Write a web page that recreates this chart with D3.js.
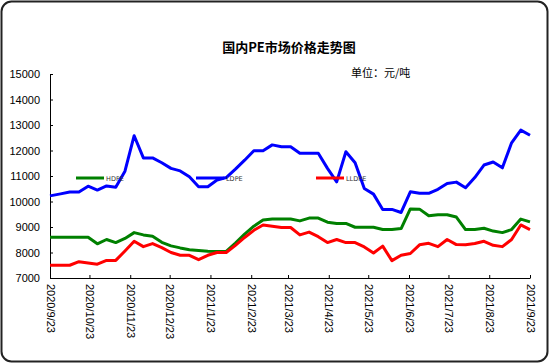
<!DOCTYPE html>
<html lang="zh">
<head>
<meta charset="UTF-8">
<title>国内PE市场价格走势图</title>
<script src="https://d3js.org/d3.v7.min.js"></script>
<style>
    body, html {
        margin: 0;
        background: #fff;
        font-family: Arial, 'Liberation Sans', sans-serif;
    }
    svg { display: block; }
</style>
</head>
<body>
<svg id="chart" width="550" height="364"></svg>
<script>
    // weekly dates (first point 9/23, then Thursdays)
    const dates = [
        "2020-09-23", "2020-10-01", "2020-10-08", "2020-10-15", "2020-10-22", "2020-10-29",
        "2020-11-05", "2020-11-12", "2020-11-19", "2020-11-26", "2020-12-03", "2020-12-10",
        "2020-12-17", "2020-12-24", "2020-12-31", "2021-01-07", "2021-01-14", "2021-01-21",
        "2021-01-28", "2021-02-04", "2021-02-11", "2021-02-18", "2021-02-25", "2021-03-04",
        "2021-03-11", "2021-03-18", "2021-03-25", "2021-04-01", "2021-04-08", "2021-04-15",
        "2021-04-22", "2021-04-29", "2021-05-06", "2021-05-13", "2021-05-20", "2021-05-27",
        "2021-06-03", "2021-06-10", "2021-06-17", "2021-06-24", "2021-07-01", "2021-07-08",
        "2021-07-15", "2021-07-22", "2021-07-29", "2021-08-05", "2021-08-12", "2021-08-19",
        "2021-08-26", "2021-09-02", "2021-09-09", "2021-09-16", "2021-09-23"
    ];

    const hdpe = [
        8600, 8600, 8600, 8600, 8600, 8340, 8510, 8390, 8550, 8780, 8690, 8640,
        8400, 8260, 8180, 8110, 8080, 8050, 8040, 8040, 8370, 8720, 9030, 9270,
        9310, 9310, 9310, 9240, 9350, 9350, 9190, 9140, 9140, 8990, 8990, 8990,
        8900, 8900, 8940, 9710, 9700, 9440, 9480, 9480, 9390, 8900, 8900, 8950,
        8840, 8780, 8900, 9310, 9200
    ];

    const ldpe = [
        10220, 10300, 10370, 10370, 10600, 10450, 10610, 10560, 11190, 12580, 11710, 11710,
        11520, 11300, 11200, 10970, 10580, 10580, 10840, 10940, 11270, 11620, 11990, 11990,
        12220, 12150, 12150, 11890, 11890, 11890, 11300, 10770, 11950, 11520, 10510, 10290,
        9690, 9690, 9570, 10380, 10320, 10320, 10480, 10710, 10760, 10540, 10940, 11430,
        11550, 11320, 12300, 12800, 12600
    ];

    const lldpe = [
        7500, 7500, 7500, 7640, 7590, 7540, 7690, 7690, 8060, 8440, 8230, 8350,
        8190, 8000, 7890, 7890, 7720, 7890, 8000, 8000, 8280, 8590, 8870, 9080,
        9030, 8980, 8980, 8690, 8800, 8620, 8390, 8510, 8390, 8390, 8220, 7980,
        8250, 7680, 7890, 7960, 8300, 8360, 8230, 8510, 8310, 8300, 8350, 8440,
        8280, 8230, 8510, 9080, 8900
    ];

    const yTicks = [7000, 8000, 9000, 10000, 11000, 12000, 13000, 14000, 15000];
    const xTickLabels = [
        "2020/9/23", "2020/10/23", "2020/11/23", "2020/12/23", "2021/1/23", "2021/2/23",
        "2021/3/23", "2021/4/23", "2021/5/23", "2021/6/23", "2021/7/23", "2021/8/23", "2021/9/23"
    ];

    const series = [
        { name: "HDPE", values: hdpe, color: "#008000", lx: 76 },
        { name: "LDPE", values: ldpe, color: "#0000ff", lx: 196 },
        { name: "LLDPE", values: lldpe, color: "#ff0000", lx: 316 }
    ];

    const parse = d3.timeParse("%Y-%m-%d");
    const parseTick = d3.timeParse("%Y/%m/%d");
    const dateObjs = dates.map(parse);

    const svg = d3.select("#chart");

    // outer rounded frame
    svg.append("rect")
        .attr("x", 1.5).attr("y", 1.5)
        .attr("width", 546).attr("height", 360)
        .attr("rx", 10).attr("ry", 10)
        .attr("fill", "#fff")
        .attr("stroke", "#222")
        .attr("stroke-width", 2);

    const x = d3.scaleTime()
        .domain([parse("2020-09-23"), parse("2021-09-23")])
        .range([50, 530]);

    const y = d3.scaleLinear()
        .domain([7000, 15000])
        .range([278, 74]);

    // title
    svg.append("text")
        .attr("x", 289).attr("y", 52)
        .attr("text-anchor", "middle")
        .attr("font-family", "'Noto Sans CJK SC', sans-serif")
        .attr("font-weight", "bold")
        .attr("font-size", 13)
        .text("国内PE市场价格走势图");

    svg.append("text")
        .attr("x", 351).attr("y", 77)
        .attr("font-family", "'Noto Sans CJK SC', sans-serif")
        .attr("font-size", 11)
        .text("单位：元/吨");

    // y axis
    const yAxis = d3.axisLeft(y)
        .tickValues(yTicks)
        .tickFormat(d3.format("d"))
        .tickSizeInner(-3)
        .tickSizeOuter(0)
        .tickPadding(10);

    const gy = svg.append("g")
        .attr("transform", "translate(50,0)")
        .call(yAxis);
    gy.selectAll("text")
        .attr("font-family", "Arial, 'Liberation Sans', sans-serif")
        .attr("font-size", 11)
        .attr("fill", "#000");
    gy.selectAll("line, path").attr("stroke", "#000");

    // x axis
    const xAxis = d3.axisBottom(x)
        .tickValues(xTickLabels.map(parseTick))
        .tickFormat((d, i) => xTickLabels[i])
        .tickSizeInner(-3)
        .tickSizeOuter(0);

    const gx = svg.append("g")
        .attr("transform", "translate(0,278)")
        .call(xAxis);
    gx.selectAll("line, path").attr("stroke", "#000");
    gx.selectAll("text")
        .attr("font-family", "Arial, 'Liberation Sans', sans-serif")
        .attr("font-size", 11)
        .attr("fill", "#000")
        .attr("text-anchor", "start")
        .attr("dy", "0.35em")
        .attr("transform", "translate(0,6) rotate(90)")
        .attr("x", 0).attr("y", 0);

    // lines
    const line = d3.line()
        .x((d, i) => x(dateObjs[i]))
        .y(d => y(d));

    series.forEach(s => {
        svg.append("path")
            .datum(s.values)
            .attr("fill", "none")
            .attr("stroke", s.color)
            .attr("stroke-width", 3)
            .attr("stroke-linejoin", "round")
            .attr("d", line);
    });

    // legend
    series.forEach(s => {
        svg.append("line")
            .attr("x1", s.lx).attr("x2", s.lx + 28)
            .attr("y1", 178).attr("y2", 178)
            .attr("stroke", s.color)
            .attr("stroke-width", 3);
        svg.append("text")
            .attr("x", s.lx + 30).attr("y", 180.5)
            .attr("font-family", "'DejaVu Sans', sans-serif")
            .attr("font-size", 6.5)
            .attr("fill", "#333")
            .text(s.name);
    });
</script>
</body>
</html>
